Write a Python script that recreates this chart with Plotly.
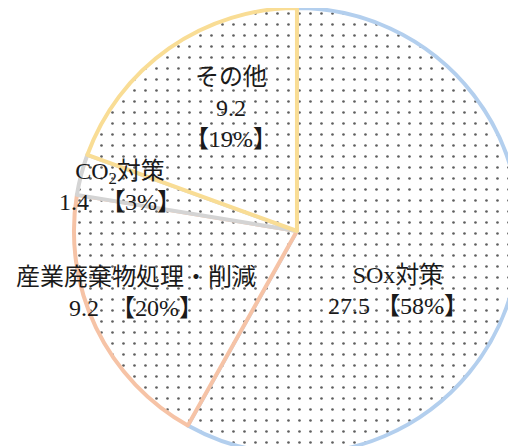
import plotly.graph_objects as go

# data
labels = ["SOx対策", "産業廃棄物処理・削減", "CO<sub>2</sub>対策", "その他"]
values = [27.5, 9.2, 1.4, 9.2]
pct_text = ["58%", "20%", "3%", "19%"]
line_colors = ["#b3cfee", "#f6c3a6", "#d4d4d4", "#f9dd95"]
# how value and percentage are joined under the name
joiners = [" ", "  ", "  ", "<br>"]
label_pos = [(390, 282), (128, 284), (112, 178), (223, 100)]

FONT = "Liberation Serif, Noto Sans CJK JP, serif"
W, H = 516, 446

fig = go.Figure()
fig.add_trace(go.Pie(
    labels=labels, values=values, sort=False, direction="clockwise",
    rotation=0, textinfo="none", hoverinfo="label+value+percent",
    domain=dict(x=[0.125, 0.995], y=[0.0, 1.0]),
    marker=dict(
        colors=["white"] * 4,
        line=dict(color=line_colors, width=4),
        pattern=dict(shape=".", fgcolor="#5f5f5f", bgcolor="white",
                     size=11, solidity=0.045),
    ),
    showlegend=False,
))

for lab, v, p, j, (px, py) in zip(labels, values, pct_text, joiners, label_pos):
    fig.add_annotation(
        x=px / W, y=1 - py / H, xref="paper", yref="paper",
        text=f"{lab}<br>{v}{j}【{p}】", showarrow=False,
        font=dict(family=FONT, size=24, color="#1a1a1a"),
        xanchor="center", yanchor="middle", align="center",
    )

fig.update_layout(
    width=W, height=H, margin=dict(l=0, r=0, t=0, b=0),
    paper_bgcolor="white", plot_bgcolor="white",
)
fig.write_html("out.html")
